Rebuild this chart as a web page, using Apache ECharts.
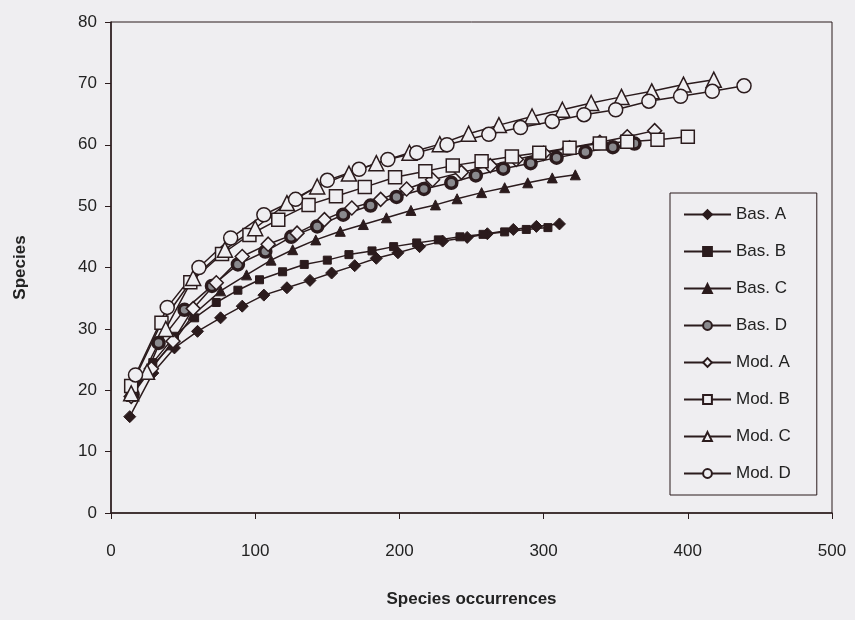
<!DOCTYPE html>
<html>
<head>
<meta charset="utf-8">
<script src="https://cdn.jsdelivr.net/npm/echarts@6/dist/echarts.min.js"></script>
<style>
    html, body { margin: 0; padding: 0; background: #efeef1; }
    #demo { width: 855px; height: 620px; }
</style>
</head>
<body>
<div id="demo"></div>
<script>
// species accumulation curves
var basAX = [13, 29, 44, 60, 76, 91, 106, 122, 138, 153, 169, 184, 199, 214, 230, 247, 261, 279, 295, 311];
var basAY = [15.7, 22.8, 26.9, 29.6, 31.8, 33.7, 35.5, 36.7, 37.9, 39.1, 40.3, 41.5, 42.4, 43.4, 44.3, 44.9, 45.5, 46.2, 46.7, 47.1];

var basBX = [14, 29, 44, 58, 73, 88, 103, 119, 134, 150, 165, 181, 196, 212, 227, 242, 258, 273, 288, 303];
var basBY = [19.2, 24.5, 28.8, 31.8, 34.3, 36.3, 38, 39.3, 40.5, 41.2, 42.1, 42.7, 43.4, 44, 44.5, 45, 45.4, 45.8, 46.2, 46.5];

var basCX = [14, 26, 42, 57, 76, 94, 111, 126, 142, 159, 175, 191, 208, 225, 240, 257, 273, 289, 306, 322];
var basCY = [19, 23.3, 27.4, 32.3, 36.2, 38.8, 41.2, 42.9, 44.5, 45.9, 47, 48.1, 49.3, 50.2, 51.2, 52.2, 53, 53.8, 54.6, 55.1];

var basDX = [15, 33, 51, 70, 88, 107, 125, 143, 161, 180, 198, 217, 236, 253, 272, 291, 309, 329, 348, 363];
var basDY = [19.3, 27.7, 33.1, 37, 40.5, 42.6, 45, 46.7, 48.6, 50.1, 51.5, 52.8, 53.8, 55, 56.1, 57, 57.9, 58.8, 59.6, 60.2];

var modAX = [14, 28, 43, 57, 73, 91, 109, 129, 148, 167, 187, 205, 223, 243, 263, 281, 300, 318, 339, 358, 377];
var modAY = [19, 23.5, 28, 33.3, 37.5, 41.8, 43.8, 45.6, 47.8, 49.7, 51.1, 52.8, 54.3, 55.5, 56.6, 57.6, 58.6, 59.5, 60.4, 61.3, 62.3];

var modBX = [14, 35, 55, 77, 96, 116, 137, 156, 176, 197, 218, 237, 257, 278, 297, 318, 339, 358, 379, 400];
var modBY = [20.7, 31, 37.6, 42.2, 45.3, 47.8, 50.2, 51.6, 53.1, 54.7, 55.7, 56.6, 57.3, 58.1, 58.7, 59.5, 60.2, 60.5, 60.8, 61.3];

var modCX = [14, 25, 38, 57, 79, 100, 122, 143, 165, 184, 207, 228, 248, 269, 292, 313, 333, 354, 375, 397, 418];
var modCY = [19.5, 23, 30, 38.3, 42.9, 46.4, 50.5, 53.2, 55.3, 57, 58.7, 60.1, 61.8, 63.2, 64.6, 65.7, 66.8, 67.8, 68.7, 69.8, 70.6];

var modDX = [17, 39, 61, 83, 106, 128, 150, 172, 192, 212, 233, 262, 284, 306, 328, 350, 373, 395, 417, 439];
var modDY = [22.5, 33.5, 40, 44.8, 48.6, 51.1, 54.2, 56, 57.6, 58.7, 60, 61.7, 62.8, 63.8, 64.9, 65.7, 67.1, 67.9, 68.7, 69.6];

var seriesNames = ['Bas. A', 'Bas. B', 'Bas. C', 'Bas. D', 'Mod. A', 'Mod. B', 'Mod. C', 'Mod. D'];

var ink = '#2b1b1d';
var bg = '#efeef1';
var font = 'Liberation Sans, Arial, sans-serif';

function zip(xs, ys) {
    var out = [];
    for (var i = 0; i < xs.length; i++) {
        out.push([xs[i], ys[i]]);
    }
    return out;
}

function makeSeries(name, xs, ys, symbol, size, fill, border) {
    return {
        name: name,
        type: 'line',
        data: zip(xs, ys),
        symbol: symbol,
        symbolSize: size,
        showAllSymbol: true,
        lineStyle: { color: ink, width: 1.5 },
        itemStyle: { color: fill, borderColor: ink, borderWidth: border },
        emphasis: { disabled: true }
    };
}

var chart = echarts.init(document.getElementById('demo'));

var option = {
    backgroundColor: bg,
    animation: false,
    textStyle: { fontFamily: font, color: '#222' },
    grid: {
        left: 111,
        right: 23,
        top: 22,
        bottom: 107,
        show: true,
        borderColor: ink,
        borderWidth: 1,
        backgroundColor: 'transparent'
    },
    legend: {
        orient: 'vertical',
        left: 670,
        top: 193,
        padding: [13, 26, 13, 13],
        itemWidth: 47,
        itemHeight: 11,
        itemGap: 20,
        borderColor: ink,
        borderWidth: 1,
        backgroundColor: bg,
        data: seriesNames,
        textStyle: { fontFamily: font, fontSize: 17, color: '#222' }
    },
    xAxis: {
        type: 'value',
        min: 0,
        max: 500,
        interval: 100,
        name: 'Species occurrences',
        nameLocation: 'middle',
        nameGap: 78,
        nameTextStyle: { fontFamily: font, fontSize: 17, fontWeight: 'bold', color: '#222' },
        axisLine: { lineStyle: { color: ink, width: 1.5 } },
        axisTick: { show: true, inside: false, length: 6, lineStyle: { color: ink } },
        axisLabel: { fontFamily: font, fontSize: 17, color: '#222', margin: 30 },
        splitLine: { show: false }
    },
    yAxis: {
        type: 'value',
        min: 0,
        max: 80,
        interval: 10,
        name: 'Species',
        nameLocation: 'middle',
        nameGap: 82,
        nameRotate: 90,
        nameTextStyle: { fontFamily: font, fontSize: 17, fontWeight: 'bold', color: '#222' },
        axisLine: { show: true, lineStyle: { color: ink, width: 1.5 } },
        axisTick: { show: true, inside: false, length: 6, lineStyle: { color: ink } },
        axisLabel: { fontFamily: font, fontSize: 17, color: '#222', margin: 14 },
        splitLine: { show: false }
    },
    series: [
        makeSeries('Bas. A', basAX, basAY, 'diamond', 12, ink, 1),
        makeSeries('Bas. B', basBX, basBY, 'rect', 8, ink, 1),
        makeSeries('Bas. C', basCX, basCY, 'triangle', 10, ink, 1),
        makeSeries('Bas. D', basDX, basDY, 'circle', 11, '#8a8a8e', 3.5),
        makeSeries('Mod. A', modAX, modAY, 'diamond', 14, bg, 1.5),
        makeSeries('Mod. B', modBX, modBY, 'rect', 13, bg, 1.5),
        makeSeries('Mod. C', modCX, modCY, 'triangle', 15, bg, 1.5),
        makeSeries('Mod. D', modDX, modDY, 'circle', 14, bg, 1.5)
    ]
};

chart.setOption(option, true);
</script>
</body>
</html>
